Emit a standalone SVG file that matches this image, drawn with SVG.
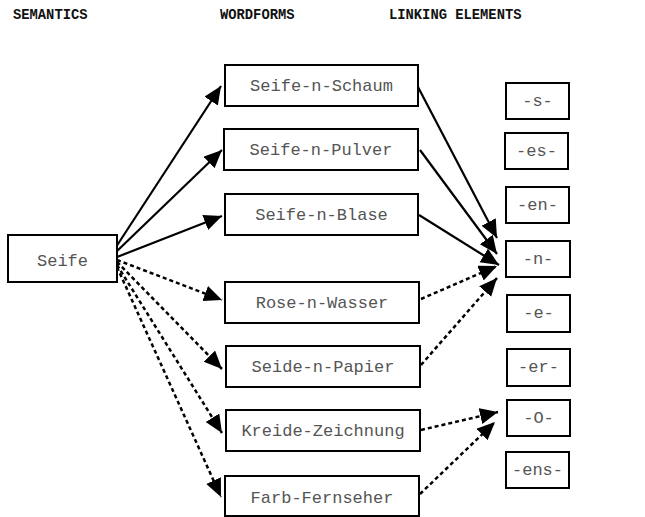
<svg xmlns="http://www.w3.org/2000/svg" width="645" height="517" viewBox="0 0 645 517">
<style>
.hdr{font-family:"Liberation Mono","Courier New",monospace;font-weight:bold;font-size:13.8px;fill:#111}
.box{fill:#fff;stroke:#000;stroke-width:2}
.lbl{font-family:"Liberation Mono","Courier New",monospace;font-size:17px;fill:#555;text-anchor:middle}
.sol{stroke:#000;stroke-width:2.2;fill:none}
.dot{stroke:#000;stroke-width:2.5;fill:none;stroke-dasharray:4 3}
</style>
<defs>
<marker id="ah" markerUnits="userSpaceOnUse" markerWidth="20" markerHeight="18" refX="18" refY="8" orient="auto">
<path d="M0,0 L18,8 L0,16 z" fill="#000"/>
</marker>
</defs>
<rect width="645" height="517" fill="#fff"/>
<g id="headers">
<text class="hdr" x="13" y="18.5">SEMANTICS</text>
<text class="hdr" x="220" y="18.5">WORDFORMS</text>
<text class="hdr" x="389" y="18.5">LINKING ELEMENTS</text>
</g>
<g id="connectors">
<line class="sol" x1="116" y1="247" x2="221" y2="86" marker-end="url(#ah)"/>
<line class="sol" x1="116" y1="252" x2="222" y2="150" marker-end="url(#ah)"/>
<line class="sol" x1="117" y1="257" x2="222" y2="216" marker-end="url(#ah)"/>
<line class="sol" x1="418" y1="87" x2="497" y2="238" marker-end="url(#ah)"/>
<line class="sol" x1="420" y1="150" x2="497" y2="254" marker-end="url(#ah)"/>
<line class="sol" x1="419" y1="215" x2="499" y2="265" marker-end="url(#ah)"/>
<line class="dot" x1="117" y1="260" x2="222" y2="300" marker-end="url(#ah)"/>
<line class="dot" x1="117" y1="262" x2="222" y2="369" marker-end="url(#ah)"/>
<line class="dot" x1="117" y1="265" x2="222" y2="433" marker-end="url(#ah)"/>
<line class="dot" x1="117" y1="267" x2="221" y2="497" marker-end="url(#ah)"/>
<line class="dot" x1="421" y1="299" x2="497" y2="266" marker-end="url(#ah)"/>
<line class="dot" x1="421" y1="365" x2="497" y2="278" marker-end="url(#ah)"/>
<line class="dot" x1="421" y1="430" x2="498" y2="412" marker-end="url(#ah)"/>
<line class="dot" x1="420" y1="494" x2="495" y2="422" marker-end="url(#ah)"/>
</g>
<g id="seife"><rect class="box" x="8" y="235" width="109" height="47"/><text class="lbl" x="62.5" y="266">Seife</text></g>
<g id="schaum"><rect class="box" x="225" y="65" width="193" height="41"/><text class="lbl" x="321.5" y="91">Seife-n-Schaum</text></g>
<g id="pulver"><rect class="box" x="224" y="129" width="194" height="41"/><text class="lbl" x="321" y="155">Seife-n-Pulver</text></g>
<g id="blase"><rect class="box" x="225" y="194" width="193" height="41"/><text class="lbl" x="321.5" y="220">Seife-n-Blase</text></g>
<g id="rose"><rect class="box" x="225" y="282" width="194" height="41"/><text class="lbl" x="322" y="308">Rose-n-Wasser</text></g>
<g id="seide"><rect class="box" x="226" y="346" width="194" height="41"/><text class="lbl" x="323" y="372">Seide-n-Papier</text></g>
<g id="kreide"><rect class="box" x="226" y="410" width="194" height="41"/><text class="lbl" x="323" y="436">Kreide-Zeichnung</text></g>
<g id="farb"><rect class="box" x="225" y="476" width="194" height="40"/><text class="lbl" x="322" y="503">Farb-Fernseher</text></g>
<g id="le-s"><rect class="box" x="506" y="83" width="63" height="36"/><text class="lbl" x="537.5" y="106">-s-</text></g>
<g id="le-es"><rect class="box" x="505" y="133" width="63" height="36"/><text class="lbl" x="536.5" y="156">-es-</text></g>
<g id="le-en"><rect class="box" x="506" y="187" width="63" height="36"/><text class="lbl" x="537.5" y="210">-en-</text></g>
<g id="le-n"><rect class="box" x="506" y="241" width="64" height="36"/><text class="lbl" x="538" y="264">-n-</text></g>
<g id="le-e"><rect class="box" x="507" y="295" width="63" height="37"/><text class="lbl" x="538.5" y="318">-e-</text></g>
<g id="le-er"><rect class="box" x="507" y="349" width="63" height="37"/><text class="lbl" x="538.5" y="372">-er-</text></g>
<g id="le-o"><rect class="box" x="507" y="400" width="63" height="36"/><text class="lbl" x="538.5" y="423">-O-</text></g>
<g id="le-ens"><rect class="box" x="506" y="452" width="63" height="36"/><text class="lbl" x="537.5" y="475">-ens-</text></g>
</svg>
